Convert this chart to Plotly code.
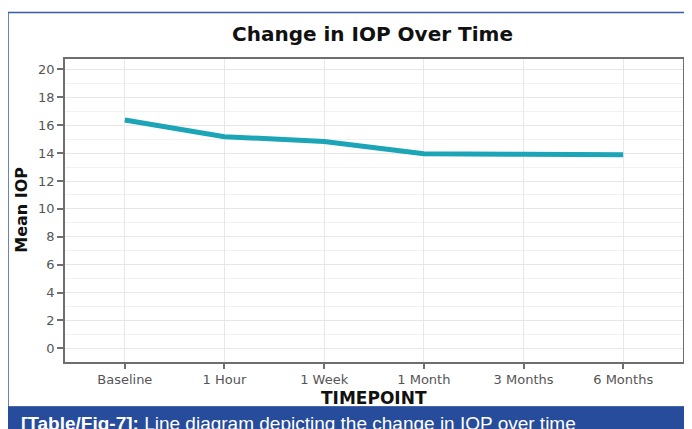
import plotly.graph_objects as go

timepoints = ["Baseline", "1 Hour", "1 Week", "1 Month", "3 Months", "6 Months"]
mean_iop = [16.37, 15.18, 14.83, 13.95, 13.92, 13.88]
y_ticks = [0, 2, 4, 6, 8, 10, 12, 14, 16, 18, 20]

title_text = "Change in IOP Over Time"
x_title = "TIMEPOINT"
y_title = "Mean IOP"
caption_bold = "[Table/Fig-7]:"
caption_rest = " Line diagram depicting the change in IOP over time"

W, H = 692, 429
OFF = 8  # page body margin offset
# target plot area in window pixels: x 65..683, y 58.5..362
L = 65 - OFF
T = 58.5 - OFF
R = W - (683 - OFF)
B = H - (362 - OFF)
PW = W - L - R
PH = H - T - B


def xp(px):
    return (px - OFF - L) / PW


def yp(py):
    return (H - B - (py - OFF)) / PH


fig = go.Figure()
fig.add_trace(go.Scatter(
    x=timepoints, y=mean_iop, mode="lines",
    line=dict(color="#1ba5b6", width=5),
    showlegend=False, hoverinfo="skip",
))

axis_line = "#6e6e6e"
fig.update_layout(
    width=W, height=H,
    margin=dict(l=L, r=R, t=T, b=B, pad=0),
    paper_bgcolor="white", plot_bgcolor="white",
    font=dict(family="DejaVu Sans", color="#555555", size=13),
    xaxis=dict(
        type="category", range=[-0.6, 5.6],
        showline=True, linecolor=axis_line, linewidth=1.5, mirror=True,
        showgrid=True, gridcolor="#e8e8e8", gridwidth=1,
        ticks="outside", ticklen=5, tickwidth=1.5, tickcolor=axis_line,
        tickfont=dict(family="DejaVu Sans", size=13, color="#555555"),
        zeroline=False, fixedrange=True,
    ),
    yaxis=dict(
        range=[-0.98, 20.75],
        tickvals=y_ticks,
        showline=True, linecolor=axis_line, linewidth=1.5, mirror=True,
        showgrid=True, gridcolor="#e6e6e6", gridwidth=1,
        minor=dict(dtick=1, tick0=0, showgrid=True, gridcolor="#f1f1f1", gridwidth=1, ticklen=0),
        ticks="outside", ticklen=6, tickwidth=1.5, tickcolor=axis_line,
        tickfont=dict(family="DejaVu Sans", size=13, color="#555555"),
        zeroline=False, fixedrange=True,
    ),
)

# Outer blue frame
fig.add_shape(type="rect", xref="paper", yref="paper",
              x0=xp(8), x1=xp(740), y0=yp(407), y1=yp(12),
              line=dict(color="#3a5aa8", width=1.5), fillcolor="rgba(0,0,0,0)")
# Caption bar
fig.add_shape(type="rect", xref="paper", yref="paper",
              x0=xp(8), x1=xp(740), y0=yp(470), y1=yp(406.5),
              line=dict(width=0), fillcolor="#264c9b")

# Title
fig.add_annotation(text="<b>" + title_text + "</b>", xref="paper", yref="paper",
                   x=xp(372), y=yp(33), xanchor="center", yanchor="middle",
                   showarrow=False, font=dict(family="DejaVu Sans", size=20, color="#111111"))
# X title
fig.add_annotation(text="<b>" + x_title + "</b>", xref="paper", yref="paper",
                   x=xp(374), y=yp(398), xanchor="center", yanchor="middle",
                   showarrow=False, font=dict(family="DejaVu Sans", size=17, color="#111111"))
# Y title
fig.add_annotation(text="<b>" + y_title + "</b>", xref="paper", yref="paper",
                   x=xp(21.5), y=yp(210), xanchor="center", yanchor="middle", textangle=-90,
                   showarrow=False, font=dict(family="DejaVu Sans", size=16, color="#111111"))
# Caption
fig.add_annotation(text="<b>" + caption_bold + "</b>" + caption_rest, xref="paper", yref="paper",
                   x=xp(19), y=yp(424), xanchor="left", yanchor="middle",
                   showarrow=False, font=dict(family="Liberation Sans", size=19, color="#ffffff"))

fig.write_html("out.html")
